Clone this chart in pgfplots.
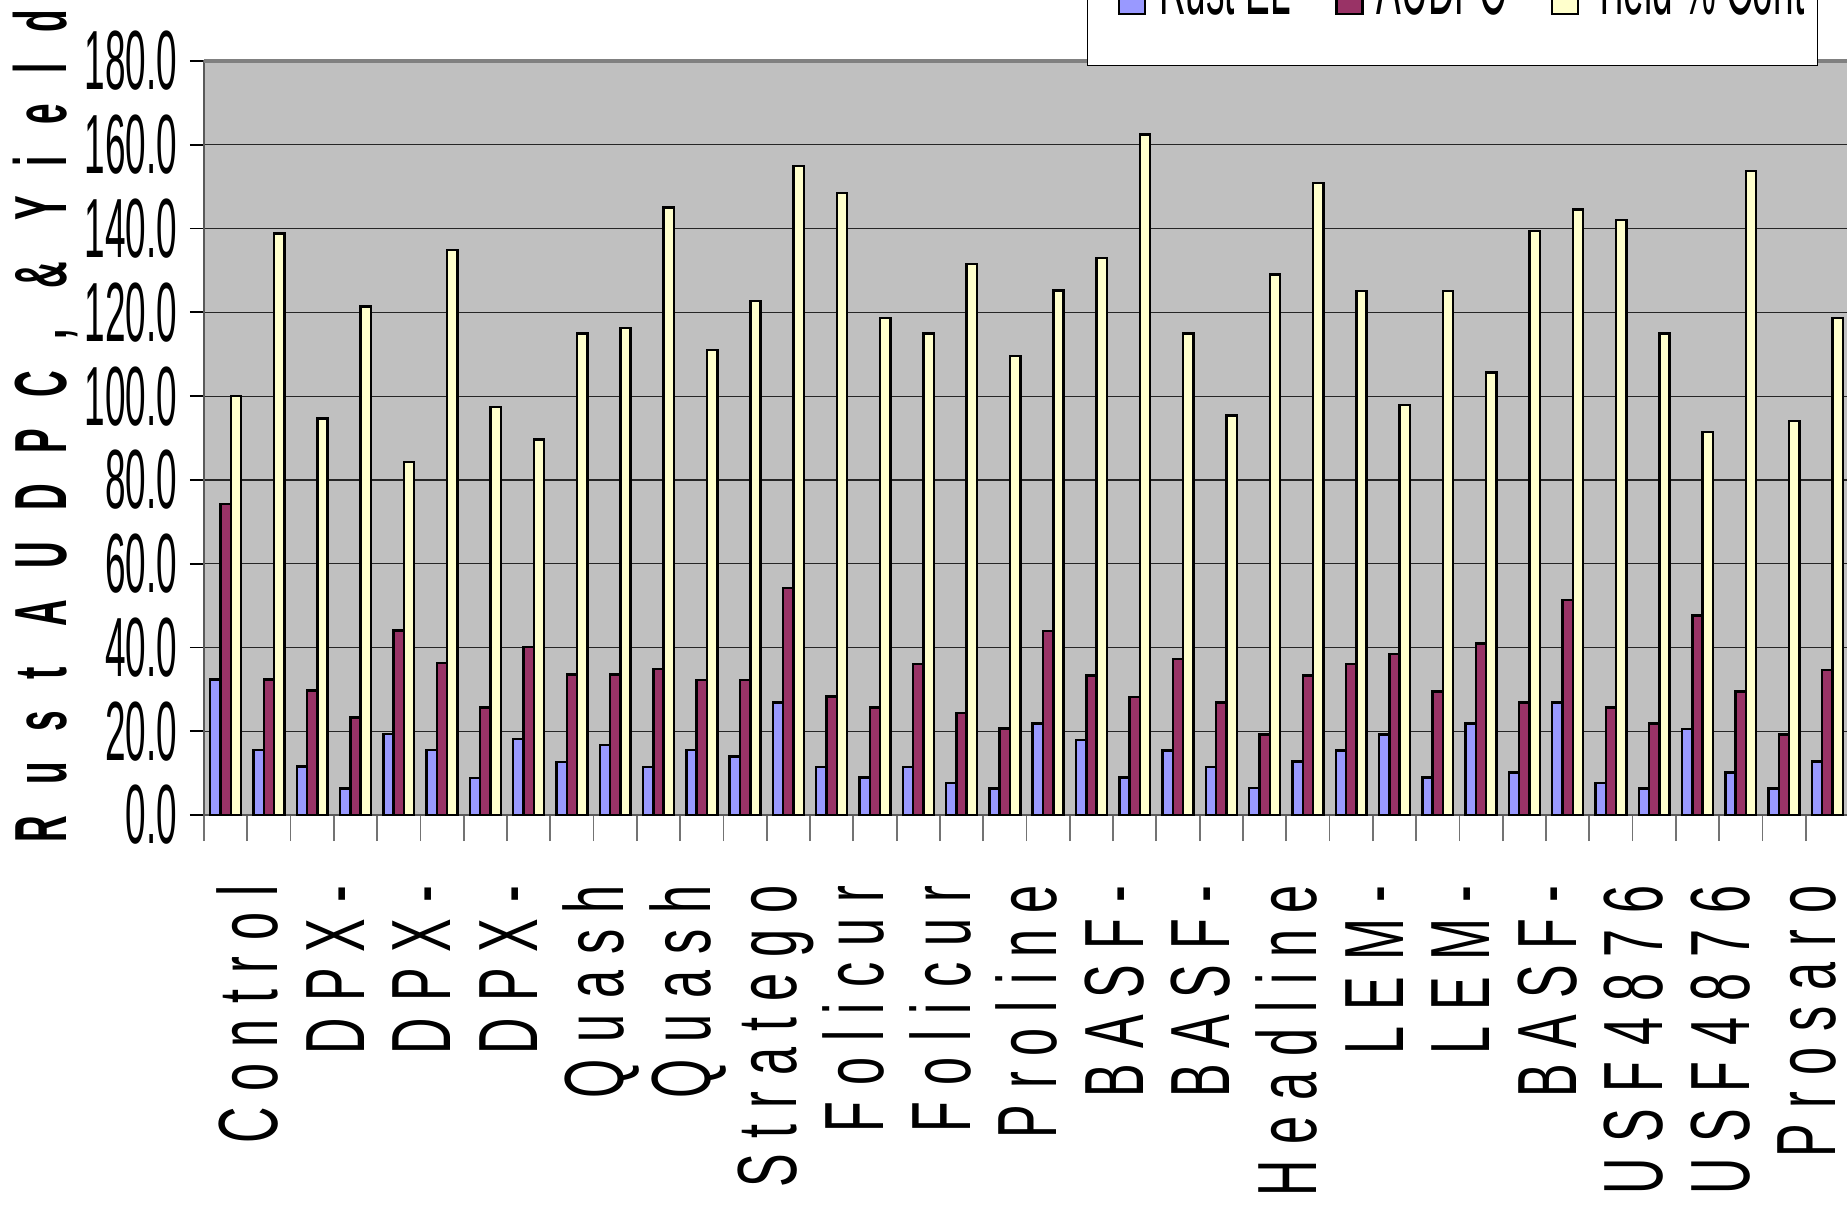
\documentclass[border=0pt]{standalone}
\usepackage{fontspec}
\usepackage{pgfplots}
\usepackage{pgfplotstable}
\pgfplotsset{compat=1.18}
\setmainfont{Liberation Sans}
\newfontfamily\tickfont{Liberation Sans}[FakeStretch=0.44]
\newfontfamily\catfont{Liberation Sans}[FakeStretch=0.6,LetterSpace=19]
\newfontfamily\ylabfont{Liberation Sans}[FakeStretch=0.5,LetterSpace=42]

\definecolor{rustc}{HTML}{9999FF}
\definecolor{audpcc}{HTML}{993366}
\definecolor{yieldc}{HTML}{FFFFCC}
\definecolor{plotbg}{HTML}{C0C0C0}

% idx, Rust EL, AUDPC, Yield % of control
\pgfplotstableread{
idx rust audpc yield
1  32.4 74.2 100.0
2  15.5 32.3 138.8
3  11.6 29.7 94.7
4  6.3  23.3 121.4
5  19.4 44.0 84.3
6  15.5 36.3 134.9
7  8.9  25.7 97.4
8  18.1 40.1 89.6
9  12.7 33.6 114.9
10 16.7 33.6 116.2
11 11.5 34.8 145.0
12 15.5 32.2 111.0
13 14.0 32.2 122.7
14 26.9 54.2 155.0
15 11.5 28.3 148.5
16 9.0  25.7 118.7
17 11.5 36.0 114.9
18 7.6  24.4 131.6
19 6.3  20.6 109.6
20 21.8 43.9 125.2
21 17.9 33.3 133.0
22 9.0  28.2 162.5
23 15.4 37.3 114.9
24 11.5 26.9 95.4
25 6.4  19.2 129.0
26 12.8 33.3 150.9
27 15.4 36.0 125.1
28 19.2 38.5 97.9
29 9.0  29.5 125.1
30 21.8 41.0 105.6
31 10.2 26.9 139.4
32 26.9 51.3 144.6
33 7.6  25.7 142.0
34 6.3  21.8 114.9
35 20.5 47.6 91.5
36 10.2 29.5 153.7
37 6.3  19.2 94.1
38 12.8 34.6 118.7
}\data

\pgfplotsset{
  boxlegend/.style={legend image code/.code={
    \path[draw=none, fill=none] (0,0) rectangle (5.9mm,0);
    \draw[draw=black, line width=0.7pt, fill=#1] (1.9mm,0) rectangle (4.5mm,2.6mm);}},
}

\begin{document}
\begin{tikzpicture}
\begin{axis}[
  name=ax,
  scale only axis,
  width=164.5mm, height=75.4mm,
  xmin=0.5, xmax=38.5,
  ymin=0, ymax=180,
  ybar=0pt, bar width=1.03mm,
  axis background/.style={fill=plotbg},
  axis line style={draw=black!65, line width=0.5pt},
  ymajorgrids,
  grid style={black!85, line width=0.35pt},
  tick align=outside,
  tick pos=left,
  major tick length=2.6mm,
  xtick={0.5,1.5,2.5,3.5,4.5,5.5,6.5,7.5,8.5,9.5,10.5,11.5,12.5,13.5,14.5,15.5,16.5,17.5,18.5,19.5,20.5,21.5,22.5,23.5,24.5,25.5,26.5,27.5,28.5,29.5,30.5,31.5,32.5,33.5,34.5,35.5,36.5,37.5,38.5},
  xticklabels={{},Control,{},DPX-,{},DPX-,{},DPX-,{},Quash,{},Quash,{},Stratego,{},Folicur,{},Folicur,{},Proline,{},BASF-,{},BASF-,{},Headline,{},LEM-,{},LEM-,{},BASF-,{},USF4876,{},USF4876,{},Prosaro,{}},
  xtick style={draw=black!55, line width=0.5pt},
  xticklabel style={rotate=90, anchor=east, inner sep=0pt, xshift=-4.4mm,
    font=\catfont\fontsize{23.9pt}{26pt}\selectfont,
    text height=17.2pt, text depth=0pt},
  ytick={0,20,...,180},
  ytick style={draw=black, line width=0.5pt, /pgfplots/major tick length=1.4mm},
  yticklabel style={anchor=east, inner sep=0pt,
    font=\tickfont\fontsize{23.9pt}{26pt}\selectfont,
    /pgf/number format/.cd, fixed, fixed zerofill, precision=1,
    assume math mode=true},
  ylabel={Rust AUDPC, \& Yield},
  every axis y label/.style={at={(axis description cs:-0.0833,-0.037)},
    anchor=base west, rotate=90, inner sep=0pt,
    font=\ylabfont\bfseries\fontsize{21pt}{23pt}\selectfont},
  every axis plot/.append style={draw=black, line width=0.7pt},
  legend columns=3,
  legend cell align=left,
  legend style={at={(axis description cs:0.9812,0.9934)}, anchor=south east,
    draw=black, fill=white, line width=0.4pt,
    inner xsep=1.3mm, inner ysep=4.6mm,
    font=\tickfont\fontsize{23.9pt}{26pt}\selectfont,
    nodes={inner sep=0pt, anchor=base west},
    /tikz/every even column/.append style={column sep=2.7mm}},
  after end axis/.code={
    \draw[black!50, line width=1pt] (rel axis cs:0,1) -- (rel axis cs:1,1);},
]
\addplot[fill=rustc, boxlegend=rustc] table[x=idx, y=rust] {\data};
\addplot[fill=audpcc, boxlegend=audpcc] table[x=idx, y=audpc] {\data};
\addplot[fill=yieldc, boxlegend=yieldc] table[x=idx, y=yield] {\data};
\legend{Rust EL, AUDPC, Yield \% Cont}
\end{axis}
\pgfresetboundingbox
\path[use as bounding box] ([shift={(-20.4mm,-40.2mm)}]ax.south west)
  rectangle ([shift={(-0.2mm,6.1mm)}]ax.north east);
\end{tikzpicture}
\end{document}
